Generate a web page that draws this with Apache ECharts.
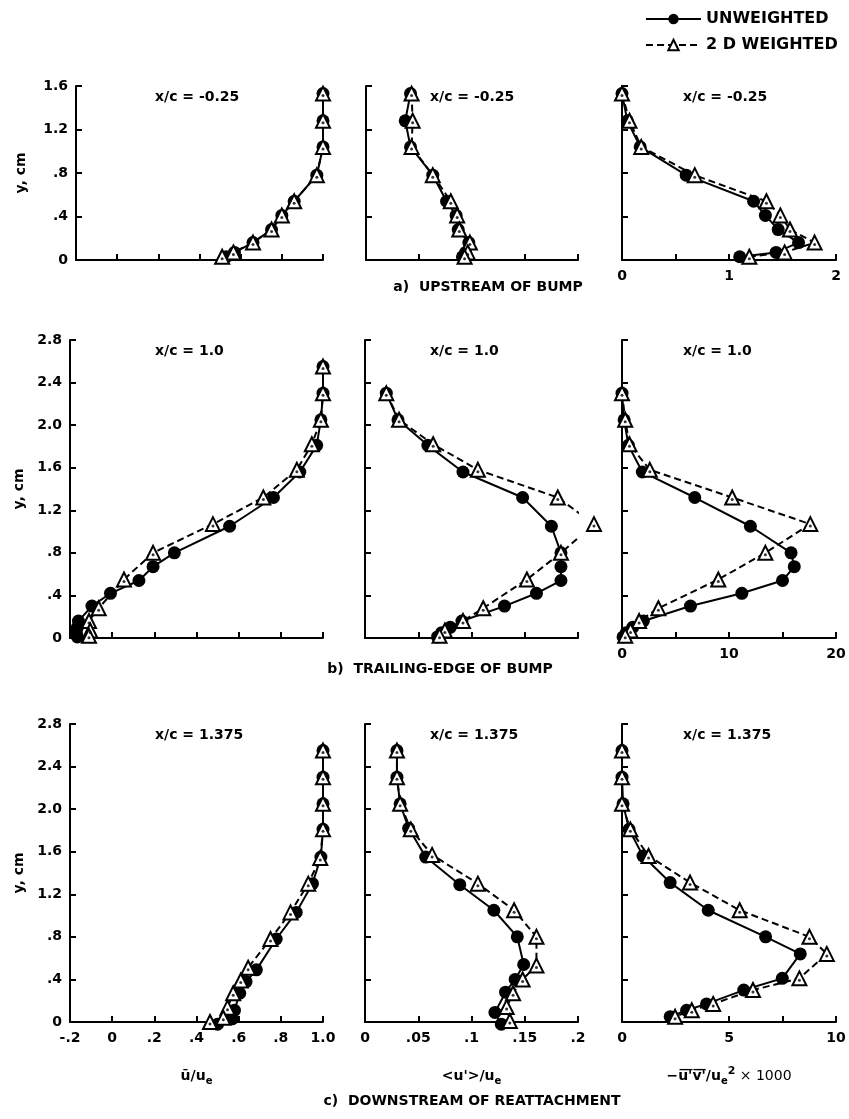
<!DOCTYPE html>
<html>
<head>
<meta charset="utf-8">
<title>Velocity profiles</title>
<script src="https://cdn.jsdelivr.net/npm/echarts@6.0.0/dist/echarts.min.js"></script>
<style>
  html, body { margin: 0; padding: 0; background: #fff; }
  #chart { width: 849px; height: 1119px; }
</style>
</head>
<body>
<div id="chart"></div>
<script>
// a) upstream of bump, x/c = -0.25
const upY = [1.53, 1.28, 1.04, 0.78, 0.54, 0.41, 0.28, 0.16, 0.07, 0.03];
const upMeanU = [1.0, 1.0, 1.0, 0.97, 0.86, 0.80, 0.75, 0.66, 0.57, 0.53];
const upMeanW = [1.0, 1.0, 1.0, 0.97, 0.86, 0.80, 0.75, 0.66, 0.565, 0.51];
const upRmsU = [0.042, 0.037, 0.042, 0.063, 0.076, 0.085, 0.087, 0.097, 0.094, 0.091];
const upRmsW = [0.043, 0.044, 0.043, 0.063, 0.080, 0.086, 0.088, 0.098, 0.096, 0.093];
const upShearU = [0.0, 0.05, 0.17, 0.60, 1.23, 1.34, 1.46, 1.65, 1.44, 1.10];
const upShearW = [0.0, 0.07, 0.18, 0.68, 1.35, 1.48, 1.57, 1.80, 1.52, 1.19];

// b) trailing edge of bump, x/c = 1.0
const teYU = [2.55, 2.30, 2.05, 1.81, 1.56, 1.32, 1.05, 0.80, 0.67, 0.54, 0.42, 0.30, 0.16, 0.10, 0.05, 0.01];
const teYW = [2.55, 2.30, 2.05, 1.82, 1.58, 1.32, 1.07, 0.80, 0.55, 0.28, 0.16, 0.07, 0.02];
const teMeanU = [1.0, 1.0, 0.99, 0.97, 0.89, 0.765, 0.557, 0.295, 0.194, 0.127, -0.008, -0.096, -0.16, -0.165, -0.17, -0.165];
const teMeanW = [1.0, 1.0, 0.99, 0.947, 0.876, 0.717, 0.478, 0.194, 0.056, -0.064, -0.11, -0.104, -0.11];
const teRmsU = [null, 0.020, 0.031, 0.059, 0.092, 0.148, 0.175, 0.184, 0.184, 0.184, 0.161, 0.131, 0.091, 0.080, 0.072, 0.068];
const teRmsW = [null, 0.020, 0.032, 0.064, 0.106, 0.181, 0.215, 0.184, 0.152, 0.111, 0.092, 0.075, 0.070];
const teShearU = [null, 0.0, 0.2, 0.6, 1.9, 6.8, 12.0, 15.8, 16.1, 15.0, 11.2, 6.4, 2.0, 1.0, 0.4, 0.1];
const teShearW = [null, 0.0, 0.3, 0.7, 2.6, 10.3, 17.6, 13.4, 9.0, 3.4, 1.6, 0.8, 0.3];

// c) downstream of reattachment, x/c = 1.375
const dsMeanYU = [2.55, 2.30, 2.05, 1.81, 1.55, 1.30, 1.03, 0.78, 0.49, 0.38, 0.27, 0.11, 0.03, -0.02];
const dsMeanU = [1.0, 1.0, 1.0, 1.0, 0.99, 0.95, 0.873, 0.778, 0.684, 0.635, 0.605, 0.58, 0.569, 0.50];
const dsMeanYW = [2.55, 2.30, 2.05, 1.81, 1.54, 1.30, 1.03, 0.78, 0.51, 0.39, 0.27, 0.135, 0.04, 0.0];
const dsMeanW = [1.0, 1.0, 1.0, 1.0, 0.987, 0.93, 0.846, 0.751, 0.645, 0.61, 0.574, 0.547, 0.527, 0.464];
const dsRmsYU = [2.55, 2.30, 2.05, 1.82, 1.55, 1.29, 1.05, 0.80, 0.54, 0.40, 0.28, 0.09, -0.02];
const dsRmsU = [0.030, 0.030, 0.033, 0.041, 0.057, 0.089, 0.121, 0.143, 0.149, 0.141, 0.132, 0.122, 0.128];
const dsRmsYW = [2.55, 2.30, 2.05, 1.81, 1.57, 1.30, 1.05, 0.80, 0.53, 0.40, 0.27, 0.14, 0.01];
const dsRmsW = [0.030, 0.030, 0.033, 0.043, 0.063, 0.106, 0.140, 0.161, 0.161, 0.148, 0.139, 0.133, 0.136];
const dsShearY = [2.55, 2.30, 2.05, 1.81, 1.56, 1.31, 1.05, 0.80, 0.64, 0.41, 0.30, 0.17, 0.11, 0.05];
const dsShearU = [0.0, 0.0, 0.05, 0.33, 0.98, 2.25, 4.03, 6.71, 8.33, 7.49, 5.69, 3.95, 3.02, 2.25];
const dsShearW = [0.0, 0.0, 0.0, 0.39, 1.24, 3.18, 5.50, 8.76, 9.57, 8.29, 6.12, 4.26, 3.26, 2.48];

// tick labels
const meanTicks = ['-.2', '0', '.2', '.4', '.6', '.8', '1.0'];
const rmsTicks = ['0', '.05', '.1', '.15', '.2'];
const upShearTicks = ['0', '', '1', '', '2'];
const teShearTicks = ['0', '', '10', '', '20'];
const dsShearTicks = ['0', '', '5', '', '10'];
const upYTicks = ['0', '.4', '.8', '1.2', '1.6'];
const yTicks = ['0', '.4', '.8', '1.2', '1.6', '2.0', '2.4', '2.8'];

const stations = ['x/c = -0.25', 'x/c = 1.0', 'x/c = 1.375'];
const captions = ['a)  UPSTREAM OF BUMP', 'b)  TRAILING-EDGE OF BUMP', 'c)  DOWNSTREAM OF REATTACHMENT'];

const FONT = 'DejaVu Sans';
// first column of row a starts a little further right in the original
const colLeft = [[76, 366, 622], [70, 365, 622], [70, 365, 622]];
const colWidth = [[247, 212, 214], [253, 213, 214], [253, 213, 214]];
const rowTop = [86, 340, 724];
const rowHeight = [174, 298, 298];

function pts(xs, ys) {
  return xs.map((x, i) => [x, ys[i]]).filter(p => p[0] !== null);
}

const panels = [
  [[pts(upMeanU, upY), pts(upMeanW, upY)], [pts(upRmsU, upY), pts(upRmsW, upY)], [pts(upShearU, upY), pts(upShearW, upY)]],
  [[pts(teMeanU, teYU), pts(teMeanW, teYW)], [pts(teRmsU, teYU), pts(teRmsW, teYW)], [pts(teShearU, teYU), pts(teShearW, teYW)]],
  [[pts(dsMeanU, dsMeanYU), pts(dsMeanW, dsMeanYW)], [pts(dsRmsU, dsRmsYU), pts(dsRmsW, dsRmsYW)], [pts(dsShearU, dsShearY), pts(dsShearW, dsShearY)]]
];

const xScales = [
  [[-0.2, 1, 0.2, meanTicks], [0, 0.2, 0.05, rmsTicks], [0, 2, 0.5, upShearTicks]],
  [[-0.2, 1, 0.2, meanTicks], [0, 0.2, 0.05, rmsTicks], [0, 20, 5, teShearTicks]],
  [[-0.2, 1, 0.2, meanTicks], [0, 0.2, 0.05, rmsTicks], [0, 10, 2.5, dsShearTicks]]
];
const yScales = [[0, 1.6, 0.4, upYTicks], [0, 2.8, 0.4, yTicks], [0, 2.8, 0.4, yTicks]];

const xNames = [
  '{t|ū/u}{sub|e}',
  '{t|<u\'>/u}{sub|e}',
  '{t|−u\u0305\'\u0305v\u0305\'\u0305/u}{sub|e}{sup|2}{n| × 1000}'
];

const lineAxis = { show: true, onZero: false, lineStyle: { color: '#000', width: 2 } };
const tickStyle = { show: true, inside: true, length: 6, lineStyle: { color: '#000', width: 2 } };
const labelFont = { color: '#000', fontFamily: FONT, fontWeight: 'bold', fontSize: 14 };

const grid = [], xAxis = [], yAxis = [], series = [], graphic = [];

for (let r = 0; r < 3; r++) {
  for (let c = 0; c < 3; c++) {
    const k = r * 3 + c;
    grid.push({ left: colLeft[r][c], top: rowTop[r], width: colWidth[r][c], height: rowHeight[r] });

    const [xmin, xmax, xint, xlab] = xScales[r][c];
    const showX = r === 2 || c === 2;
    xAxis.push({
      gridIndex: k, type: 'value', min: xmin, max: xmax, interval: xint,
      axisLine: lineAxis, axisTick: tickStyle, splitLine: { show: false },
      axisLabel: Object.assign({ show: showX, margin: 9,
        formatter: v => xlab[Math.round((v - xmin) / xint)] }, labelFont),
      name: r === 2 ? xNames[c] : '',
      nameLocation: 'middle', nameGap: 44,
      nameTextStyle: {
        rich: {
          t: { fontFamily: FONT, fontWeight: 'bold', fontSize: 14, color: '#000' },
          sub: { fontFamily: FONT, fontWeight: 'bold', fontSize: 10, color: '#000', padding: [10, 0, 0, 0] },
          sup: { fontFamily: FONT, fontWeight: 'bold', fontSize: 11, color: '#000', padding: [0, 0, 10, 0] },
          n: { fontFamily: FONT, fontSize: 14, color: '#000' }
        }
      }
    });

    const [ymin, ymax, yint, ylab] = yScales[r];
    yAxis.push({
      gridIndex: k, type: 'value', min: ymin, max: ymax, interval: yint,
      axisLine: lineAxis, axisTick: tickStyle, splitLine: { show: false },
      axisLabel: Object.assign({ show: c === 0, margin: 8,
        formatter: v => ylab[Math.round((v - ymin) / yint)] }, labelFont),
      name: c === 0 ? 'y, cm' : '',
      nameLocation: 'middle', nameGap: r === 0 ? 48 : 44,
      nameTextStyle: { fontFamily: FONT, fontWeight: 'bold', fontSize: 14, color: '#000' }
    });

    const [u, w] = panels[r][c];
    series.push({
      type: 'line', name: 'UNWEIGHTED', xAxisIndex: k, yAxisIndex: k, data: u,
      symbol: 'circle', symbolSize: 13, showAllSymbol: true, clip: false,
      itemStyle: { color: '#000' },
      lineStyle: { color: '#000', width: 2 },
      emphasis: { disabled: true }, z: 3
    });
    series.push({
      type: 'line', name: '2 D WEIGHTED', xAxisIndex: k, yAxisIndex: k, data: w,
      symbol: 'triangle', symbolSize: 14, showAllSymbol: true, clip: false,
      itemStyle: { color: '#fff', borderColor: '#000', borderWidth: 2 },
      lineStyle: { color: '#000', width: 2, type: [7, 4] },
      emphasis: { disabled: true }, z: 4
    });
    // the small printed dot inside each open triangle
    series.push({
      type: 'scatter', name: 'dot', xAxisIndex: k, yAxisIndex: k, data: w,
      symbol: 'circle', symbolSize: 3, symbolOffset: [0, 2], clip: false,
      itemStyle: { color: '#000' }, silent: true, z: 5
    });

    graphic.push({
      type: 'text', left: [155, 430, 683][c], top: rowTop[r] + 4,
      style: { text: stations[r], fill: '#000', font: 'bold 14px "' + FONT + '"' }
    });
  }
}

const captionPos = [[488, 280], [440, 662], [472, 1094]];
captions.forEach((t, r) => {
  graphic.push({
    type: 'text', x: captionPos[r][0], y: captionPos[r][1],
    style: { text: t, fill: '#000', align: 'center', font: 'bold 14px "' + FONT + '"' }
  });
});

const chart = echarts.init(document.getElementById('chart'));
chart.setOption({
  backgroundColor: '#fff',
  animation: false,
  legend: {
    data: ['UNWEIGHTED', '2 D WEIGHTED'],
    orient: 'vertical', left: 640, top: 6,
    itemWidth: 55, itemHeight: 13, itemGap: 10,
    selectedMode: false,
    textStyle: { fontFamily: FONT, fontWeight: 'bold', fontSize: 16, color: '#000' }
  },
  grid: grid,
  xAxis: xAxis,
  yAxis: yAxis,
  series: series,
  graphic: graphic
});
</script>
</body>
</html>
